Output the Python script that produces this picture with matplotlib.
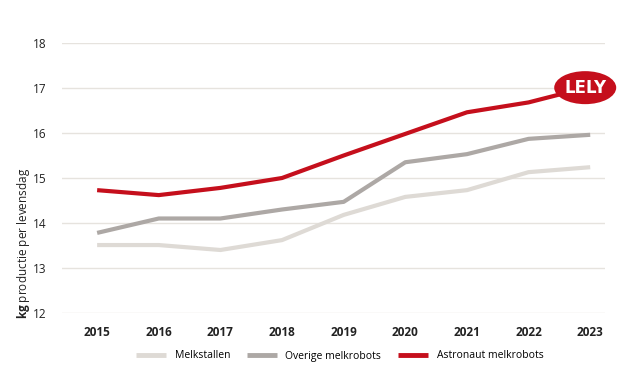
import numpy as np
import matplotlib.pyplot as plt
from matplotlib.patches import Ellipse
from matplotlib.transforms import ScaledTranslation

plt.rcParams['font.family'] = ['Open Sans', 'DejaVu Sans']
plt.rcParams['mathtext.fontset'] = 'custom'
plt.rcParams['mathtext.bf'] = 'Open Sans:bold'
plt.rcParams['mathtext.rm'] = 'Open Sans'

years = [2015, 2016, 2017, 2018, 2019, 2020, 2021, 2022, 2023]
melkstallen = [13.51, 13.51, 13.40, 13.62, 14.18, 14.58, 14.73, 15.13, 15.24]
overige = [13.78, 14.10, 14.10, 14.30, 14.47, 15.35, 15.53, 15.87, 15.96]
astronaut = [14.73, 14.62, 14.78, 15.00, 15.50, 15.98, 16.46, 16.68, 17.03]
labels = ['Melkstallen', 'Overige melkrobots', 'Astronaut melkrobots']
colors = ['#DEDAD5', '#ADA8A5', '#C50F1C']

fig = plt.figure(figsize=(6.41, 3.78), dpi=100)
ax = fig.add_axes([62/641, 1-313/378, (605-62)/641, (313-43)/378])

for vals, lab, col in zip([melkstallen, overige, astronaut], labels, colors):
    ax.plot(years, vals, color=col, lw=3, label=lab, solid_capstyle='butt', zorder=3)

ax.set_ylim(12, 18)
ax.set_xlim(2015 - 0.57, 2023 + 0.24)
ax.set_yticks(range(12, 19))
ax.set_xticks(years)
ax.set_xticklabels([str(y) for y in years], fontweight='bold', fontsize=8.5, color='#222222')
ax.tick_params(axis='y', length=0, pad=11, labelsize=8.5, labelcolor='#222222')
ax.tick_params(axis='x', length=0, pad=9)
ax.grid(axis='y', color='#E6E3DE', lw=1)
ax.set_axisbelow(True)
for s in ax.spines.values():
    s.set_visible(False)

fig.text(0.036, 1-319/378, r'$\mathbf{kg}$ productie per levensdag', rotation=90,
         ha='center', va='bottom', fontsize=8.5, color='#222222')

# logo at the end of the Astronaut line
tr = fig.dpi_scale_trans + ScaledTranslation(years[-1], astronaut[-1], ax.transData)
ax.add_patch(Ellipse((-0.05, -0.01), 0.62, 0.33, transform=tr, facecolor='#C50F1C',
                     edgecolor='none', zorder=5, clip_on=False))
ax.text(-0.05, -0.01, 'LELY', transform=tr, ha='center', va='center', color='white',
        fontsize=12, fontweight='bold', zorder=6, family='DejaVu Sans Condensed')

fig.legend(loc='center', bbox_to_anchor=(0.53, 1-356/378), ncol=3, frameon=False,
           fontsize=7.5, handlelength=2.9, handletextpad=0.8, columnspacing=1.6)
for line in fig.legends[0].get_lines():
    line.set_linewidth(3.5)

fig.savefig('out.png', dpi=100)
